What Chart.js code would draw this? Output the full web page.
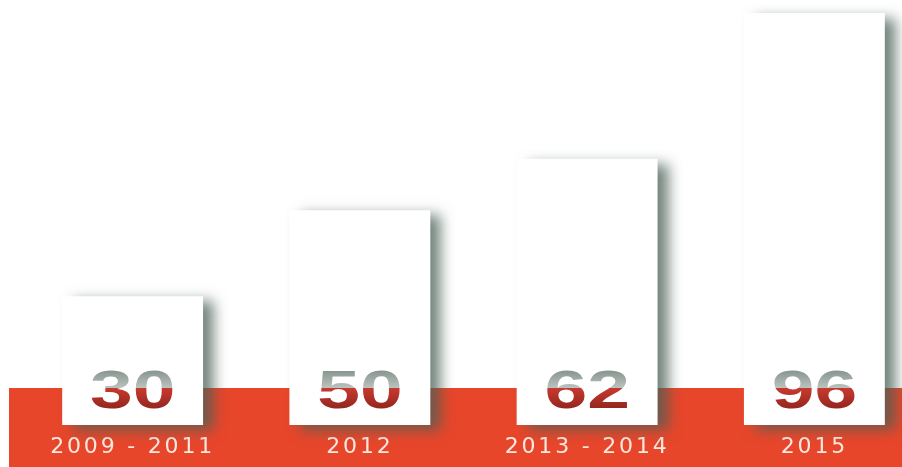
<!DOCTYPE html>
<html>
<head>
<meta charset="utf-8">
<script src="https://cdn.jsdelivr.net/npm/chart.js@4.4.1/dist/chart.umd.min.js"></script>
<style>
  html, body { margin: 0; padding: 0; background: #fff; overflow: hidden; }
  #wrap { width: 928px; height: 467px; position: relative; }
</style>
</head>
<body>
<div id="wrap"><canvas id="chart"></canvas></div>
<script>
// Chart data
const periods = ['2009 - 2011', '2012', '2013 - 2014', '2015'];
const counts = [30, 50, 62, 96];

const COLORS = {
  band: '#e8462b',
  bar: '#ffffff',
  tick: '#fde9df',
  shadow: 'rgba(74, 96, 86, 0.78)'
};

// Red strip behind the bottom of the bars, height above the bar base
const BAND_RISE = 37;

/**
 * Background: white page plus the red strip along the bottom.
 * Also turns on letter spacing for the axis labels drawn right after.
 */
const bandPlugin = {
  id: 'band',
  beforeDraw(chart) {
    const { ctx, chartArea, width, height } = chart;
    ctx.save();
    ctx.fillStyle = '#ffffff';
    ctx.fillRect(0, 0, width, height);
    ctx.fillStyle = COLORS.band;
    const top = chartArea.bottom - BAND_RISE;
    ctx.fillRect(9, top, width - 9, height - top);
    ctx.restore();
    ctx.letterSpacing = '2.8px'; // spaced-out year labels
  },
  beforeDatasetsDraw(chart) {
    const ctx = chart.ctx;
    ctx.letterSpacing = '0px';
    // soft shadow to the right of each bar
    ctx.save();
    ctx.shadowColor = COLORS.shadow;
    ctx.shadowBlur = 13;
    ctx.shadowOffsetX = 11;
    ctx.shadowOffsetY = 5;
  },
  afterDatasetsDraw(chart) {
    chart.ctx.restore();
  }
};

/**
 * Big value inside each bar: grey above the strip line, red below it
 */
const valuePlugin = {
  id: 'values',
  afterDatasetsDraw(chart) {
    const { ctx, chartArea } = chart;
    const bandTop = chartArea.bottom - BAND_RISE;
    const meta = chart.getDatasetMeta(0);
    meta.data.forEach((bar, i) => {
      const y = bar.base - 17;
      ctx.save();
      ctx.translate(bar.x, y);
      ctx.scale(1.45, 1);
      const g = ctx.createLinearGradient(0, -38, 0, 0);
      const split = (bandTop - y + 38) / 38;
      g.addColorStop(0, '#86938d');
      g.addColorStop(Math.max(0, split - 0.01), '#bac2be');
      g.addColorStop(split, '#c83a2f');
      g.addColorStop(1, '#94271f');
      ctx.fillStyle = g;
      ctx.font = 'bold 53px "Liberation Sans", Arial, sans-serif';
      ctx.textAlign = 'center';
      ctx.textBaseline = 'alphabetic';
      ctx.fillText(String(counts[i]), 0, 0);
      ctx.restore();
    });
  }
};

const ctx = document.getElementById('chart').getContext('2d');

new Chart(ctx, {
  type: 'bar',
  data: {
    labels: periods,
    datasets: [{
      data: counts,
      backgroundColor: COLORS.bar,
      borderWidth: 0,
      barPercentage: 0.62,
      categoryPercentage: 1,
      clip: false
    }]
  },
  options: {
    responsive: true,
    maintainAspectRatio: false,
    animation: false,
    layout: { padding: { left: 19, right: 0, top: 0, bottom: 0 } },
    scales: {
      x: {
        grid: { display: false, drawTicks: false },
        border: { display: false },
        ticks: {
          color: COLORS.tick,
          padding: 9,
          font: { family: '"DejaVu Sans", sans-serif', size: 22 }
        },
        afterFit(scale) {
          scale.height = 42;
        }
      },
      y: {
        display: false,
        min: 0,
        max: 99
      }
    },
    plugins: {
      legend: { display: false },
      tooltip: { enabled: false }
    }
  },
  plugins: [bandPlugin, valuePlugin]
});
</script>
</body>
</html>
